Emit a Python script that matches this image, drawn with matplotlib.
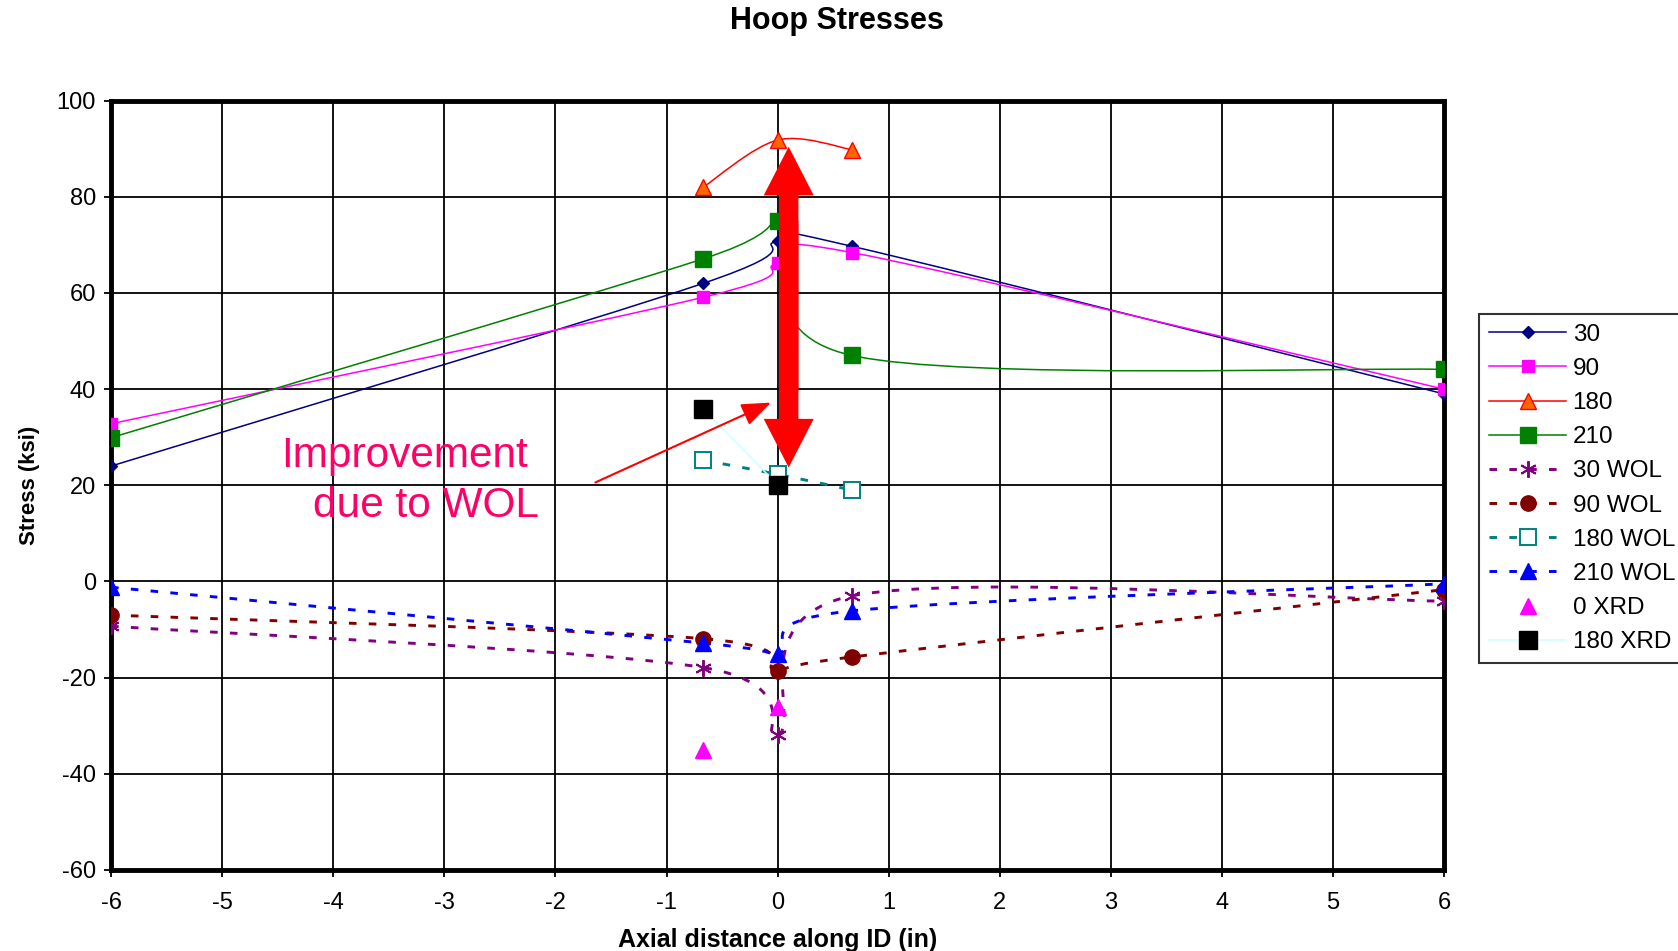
import numpy as np
import matplotlib
matplotlib.use("Agg")
import matplotlib.pyplot as plt
from matplotlib.path import Path
from matplotlib.patches import PathPatch, FancyArrowPatch
from matplotlib.lines import Line2D

plt.rcParams['font.family'] = ['Liberation Sans', 'DejaVu Sans']
plt.rcParams['axes.unicode_minus'] = False

# axial positions (in)
x_full = [-6, -0.67, 0, 0.67, 6]
x_mid = [-0.67, 0, 0.67]
x_xrd = [-0.67, 0]

# hoop stresses (ksi)
s30 = [24, 62, 70.8, 69.7, 39]
s90 = [32.8, 59.1, 66.2, 68.4, 40]
s180 = [82, 91.8, 89.8]
s210 = [29.9, 67.1, 74.9, 47, 44.1]
s30_wol = [-9.3, -17.9, -32, -3, -4.1]
s90_wol = [-7, -11.9, -18.6, -15.7, -1.7]
s180_wol = [25.2, 22.3, 19]
s210_wol = [-1.2, -12.8, -15, -6.1, -0.5]
s0_xrd = [-35.1, -26.2]
s180_xrd = [35.9, 20.1]

x_ticks = list(range(-6, 7))
y_ticks = list(range(-60, 101, 20))


def smooth_path(xs, ys):
    """Excel style smoothed line: cubic bezier through every point."""
    pts = np.column_stack([xs, ys]).astype(float)
    n = len(pts)
    verts = [pts[0]]
    codes = [Path.MOVETO]
    for i in range(n - 1):
        p0 = pts[i - 1] if i > 0 else pts[i]
        p1 = pts[i]
        p2 = pts[i + 1]
        p3 = pts[i + 2] if i + 2 < n else pts[i + 1]
        c1 = p1 + (p2 - p0) / 6.0
        c2 = p2 - (p3 - p1) / 6.0
        verts += [c1, c2, p2]
        codes += [Path.CURVE4] * 3
    return Path(verts, codes)


dash = (0, (2.6, 4.2))

series = [
    # label, x, y, line color, linestyle, lw, marker, msize, face, edge
    ('30', x_full, s30, '#000080', '-', 1.1, 'D', 6, '#000080', '#000080'),
    ('90', x_full, s90, '#FF00FF', '-', 1.1, 's', 8, '#FF00FF', '#FF00FF'),
    ('180', x_mid, s180, '#FF0000', '-', 1.1, '^', 12, '#FF6600', '#FF0000'),
    ('210', x_full, s210, '#008000', '-', 1.1, 's', 12, '#008000', '#008000'),
    ('30 WOL', x_full, s30_wol, '#800080', dash, 2.1, (6, 2, 0), 12, '#800080', '#800080'),
    ('90 WOL', x_full, s90_wol, '#800000', dash, 2.1, 'o', 11, '#800000', '#800000'),
    ('180 WOL', x_mid, s180_wol, '#008080', dash, 2.1, 's', 11, 'white', '#008080'),
    ('210 WOL', x_full, s210_wol, '#0000FF', dash, 2.1, '^', 12, '#0000FF', '#0000FF'),
    ('0 XRD', x_xrd, s0_xrd, None, 'none', 0, '^', 12, '#FF00FF', '#FF00FF'),
    ('180 XRD', x_xrd, s180_xrd, '#CCFFFF', '-', 1.1, 's', 13, 'black', 'black'),
]

fig = plt.figure(figsize=(16.78, 9.51), dpi=100)
ax = fig.add_axes([0.0662, 0.0852, 0.7944, 0.8090])

handles = []
for label, xs, ys, lc, ls, lw, mk, ms, fc, ec in series:
    if lc is not None:
        ax.add_patch(PathPatch(smooth_path(xs, ys), fill=False, edgecolor=lc,
                               linestyle=ls, linewidth=lw, zorder=3))
    mew = 1.4 if mk == (6, 2, 0) or fc == 'white' else 1.0
    ax.plot(xs, ys, linestyle='none', marker=mk, markersize=ms,
            markerfacecolor=fc, markeredgecolor=ec, markeredgewidth=mew, zorder=4)
    handles.append(Line2D([], [], color=lc if lc else 'none', linestyle=ls,
                          linewidth=lw, marker=mk, markersize=ms,
                          markerfacecolor=fc, markeredgecolor=ec,
                          markeredgewidth=mew))

ax.set_xlim(-6, 6)
ax.set_ylim(-60, 100)
ax.set_xticks(x_ticks)
ax.set_yticks(y_ticks)
ax.grid(True, color='black', linewidth=1.3)
ax.set_axisbelow(True)
for sp in ax.spines.values():
    sp.set_linewidth(3.5)
ax.tick_params(direction='out', length=5, width=1.3, labelsize=17)
ax.tick_params(axis='x', pad=11)
ax.tick_params(axis='y', pad=6)

ax.set_xlabel('Axial distance along ID (in)', fontsize=18, fontweight='bold', labelpad=10)
ax.set_ylabel('Stress (ksi)', fontsize=16, fontweight='bold', labelpad=12)
fig.text(0.499, 0.978, 'Hoop Stresses', ha='center', va='center',
         fontsize=22, fontweight='bold')

# big double-headed arrow showing the improvement
arrow_kw = dict(arrowstyle='simple,head_length=35,head_width=36,tail_width=14',
                mutation_scale=1, color='#FF0000', linewidth=0, zorder=6,
                shrinkA=0, shrinkB=0)
ax.add_patch(FancyArrowPatch((0.1, 40), (0.1, 90.4), **arrow_kw))
ax.add_patch(FancyArrowPatch((0.1, 75), (0.1, 23.7), **arrow_kw))

ax.annotate('', xy=(-0.06, 37.2), xytext=(-1.64, 20.6),
            arrowprops=dict(arrowstyle='-|>,head_length=0.9,head_width=0.35',
                            color='#FF0000', linewidth=1.5, mutation_scale=20,
                            shrinkA=0, shrinkB=0),
            zorder=6)
ax.text(-4.47, 26.1, 'Improvement', color='#FF0066', fontsize=30.5,
        ha='left', va='center', zorder=6)
ax.text(-4.18, 15.6, 'due to WOL', color='#FF0066', fontsize=30.5,
        ha='left', va='center', zorder=6)

leg = ax.legend(handles, [s[0] for s in series], loc='upper left',
                bbox_to_anchor=(0.8814, 0.6698), bbox_transform=fig.transFigure,
                fontsize=17.5, frameon=True, fancybox=False, handlelength=3.2,
                handletextpad=0.25, labelspacing=0.5, borderpad=0.4,
                borderaxespad=0, numpoints=1)
leg.get_frame().set_edgecolor('black')
leg.get_frame().set_linewidth(1.5)

fig.savefig('out.png', dpi=100)
